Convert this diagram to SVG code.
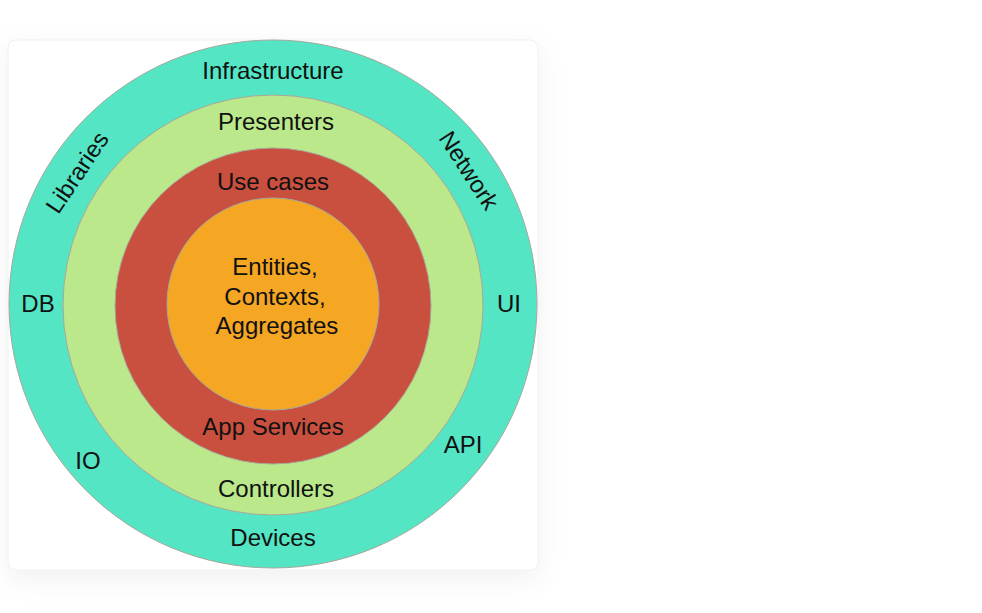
<svg xmlns="http://www.w3.org/2000/svg" width="982" height="613" viewBox="0 0 982 613">
<defs>
<filter id="sh" x="-20%" y="-20%" width="140%" height="140%">
<feDropShadow dx="0" dy="8" stdDeviation="14" flood-color="#000" flood-opacity="0.06"/>
</filter>
<style>
.ring{stroke:#a8a89a;stroke-width:1}
.t{font-family:"Liberation Sans",Arial,sans-serif;font-size:24px;fill:#111;text-anchor:middle}
</style>
</defs>
<rect width="982" height="613" fill="#ffffff"/>
<rect x="8" y="40" width="530" height="530" rx="8" fill="#ffffff" stroke="#efefef" filter="url(#sh)"/>
<g id="infrastructure">
<circle class="ring" cx="273" cy="304" r="264" fill="#53E5C4"/>
<text class="t" x="273" y="79">Infrastructure</text>
<text class="t" x="273" y="546">Devices</text>
<text class="t" x="38" y="312">DB</text>
<text class="t" x="509" y="312">UI</text>
<text class="t" x="88" y="469">IO</text>
<text class="t" x="463" y="453">API</text>
<text class="t" transform="translate(84,177) rotate(-56)">Libraries</text>
<text class="t" transform="translate(462,175) rotate(57)">Network</text>
</g>
<g id="presenters">
<circle class="ring" cx="273" cy="305" r="210" fill="#BAE88A"/>
<text class="t" x="276" y="130">Presenters</text>
<text class="t" x="276" y="497">Controllers</text>
</g>
<g id="usecases">
<circle class="ring" cx="273" cy="306" r="158" fill="#C94F3E"/>
<text class="t" x="273" y="190">Use cases</text>
<text class="t" x="273" y="435">App Services</text>
</g>
<g id="entities">
<circle class="ring" cx="273" cy="304" r="106" fill="#F5A623"/>
<text class="t" x="275" y="275">Entities,</text>
<text class="t" x="275" y="305">Contexts,</text>
<text class="t" x="277" y="334">Aggregates</text>
</g>
<g id="connectors"/>
</svg>
